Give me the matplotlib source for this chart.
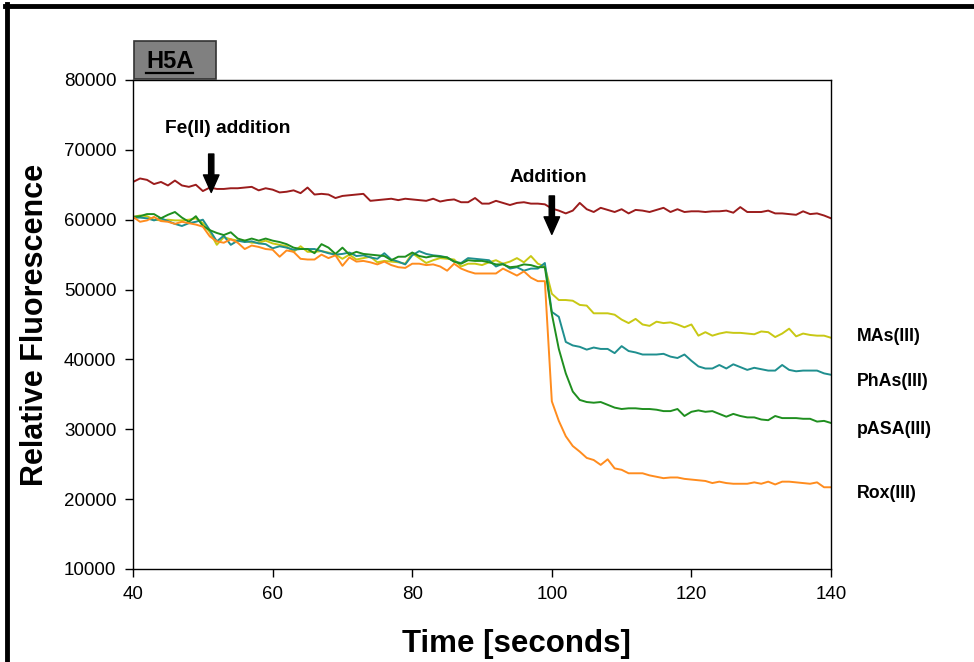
import numpy as np
import matplotlib
matplotlib.use("Agg")
import matplotlib.pyplot as plt
from matplotlib.lines import Line2D
from matplotlib.patches import Rectangle

plt.rcParams['font.family'] = ['Liberation Sans', 'DejaVu Sans']

### Time axis (seconds)
time = np.arange(40, 141)

### Series values
control = [
    65400, 65900, 65700, 65100, 65400, 64900, 65600, 64900, 64700, 65000,
    64100, 64600, 64400, 64400, 64500, 64500, 64600, 64700, 64200, 64500,
    64300, 63900, 64000, 64200, 63800, 64600, 63600, 63700, 63600, 63100,
    63400, 63500, 63600, 63700, 62700, 62800, 62900, 63000, 62800, 63000,
    62900, 62800, 62700, 63000, 62600, 62800, 62900, 62500, 62500, 63100,
    62300, 62300, 62700, 62400, 62100, 62400, 62500, 62300, 62300, 62200,
    61600, 61300, 60900, 61300, 62400, 61500, 61100, 61700, 61400, 61100,
    61500, 60900, 61400, 61300, 61100, 61400, 61700, 61100, 61500, 61100,
    61200, 61200, 61100, 61200, 61200, 61300, 61000, 61800, 61100, 61100,
    61100, 61300, 60900, 60900, 60800, 60700, 61200, 60800, 60900, 60600,
    60200,
]
mas = [
    60400, 60600, 60500, 60000, 59900, 60000, 59900, 59900, 60000, 60200,
    59500, 58200, 56400, 57500, 57200, 57000, 57000, 56700, 56700, 57000,
    56600, 56400, 56200, 55400, 56200, 55400, 55400, 55500, 55300, 55000,
    54400, 55000, 54300, 54500, 54700, 53900, 54100, 54000, 53900, 53700,
    55200, 54500, 53800, 54200, 54500, 54400, 54300, 53300, 53700, 53700,
    53500, 53900, 54200, 53700, 54000, 54500, 53900, 54800, 53700, 53300,
    49400, 48500, 48500, 48400, 47800, 47700, 46600, 46600, 46600, 46400,
    45700, 45200, 45800, 45000, 44800, 45400, 45200, 45300, 45000, 44600,
    45000, 43400, 43900, 43400, 43700, 43900, 43800, 43800, 43700, 43600,
    44000, 43900, 43200, 43700, 44400, 43300, 43700, 43500, 43400, 43400,
    43100,
]
phas = [
    60300, 60300, 60200, 59900, 60200, 59800, 59400, 59100, 59500, 59700,
    60000, 58500, 56900, 57700, 56400, 57000, 56800, 56900, 56600, 56500,
    55900, 56200, 56000, 55700, 55800, 55800, 55800, 55500, 55200, 55000,
    55100, 55300, 54800, 54900, 54600, 54400, 55200, 54300, 54000, 53600,
    54900, 55500, 55100, 54900, 54800, 54600, 54000, 53800, 54500, 54400,
    54300, 54200, 53300, 53700, 53000, 53200, 52700, 53000, 53000, 53800,
    46800, 46100, 42500, 42000, 41800, 41400, 41700, 41500, 41500, 40900,
    41900, 41200, 41000, 40700, 40700, 40700, 40800, 40400, 40200, 40700,
    39800, 39000, 38700, 38700, 39200, 38700, 39300, 38900, 38500, 38800,
    38600, 38400, 38400, 39200, 38500, 38300, 38400, 38400, 38400, 38000,
    37800,
]
pasa = [
    60400, 60500, 60800, 60800, 60200, 60700, 61100, 60300, 59700, 60500,
    59100, 58500, 58100, 57800, 58200, 57300, 57000, 57300, 57000, 57300,
    57000, 56800, 56500, 56000, 55800, 55800, 55200, 56500, 56000, 55100,
    56000, 55000, 55400, 55100, 55000, 54900, 54800, 54200, 54700, 54700,
    55300, 54800, 54600, 54800, 54700, 54600, 54000, 53700, 54200, 54100,
    54100, 53900, 53600, 53600, 53200, 53300, 53600, 53500, 53200, 53200,
    46500, 41500, 38000, 35400, 34200, 33900, 33800, 33900, 33500, 33100,
    32900, 33000, 33000, 32900, 32900, 32800, 32600, 32600, 32900, 31900,
    32500, 32700, 32500, 32600, 32200, 31800, 32200, 31900, 31700, 31700,
    31400, 31300, 31900, 31600, 31600, 31600, 31500, 31500, 31100, 31200,
    30900,
]
rox = [
    60400, 59700, 59900, 60400, 59800, 59700, 59400, 59700, 59500, 59300,
    59000, 57600, 56900, 56700, 57200, 56700, 55800, 56300, 56100, 55800,
    55700, 54700, 55600, 55400, 54400, 54300, 54300, 55000, 54500, 54900,
    53400, 54600, 54000, 54100, 53900, 53600, 54000, 53500, 53200, 53100,
    53700, 53700, 53500, 53600, 53300, 52700, 53700, 53000, 52600, 52300,
    52300, 52300, 52300, 53000, 52500, 52000, 52600, 51700, 51200, 51200,
    34000, 31200, 29000, 27600, 26800, 25900, 25600, 24900, 25700, 24400,
    24200, 23700, 23700, 23700, 23400, 23200, 23000, 23100, 23100, 22900,
    22800, 22700, 22600, 22300, 22500, 22300, 22200, 22200, 22200, 22400,
    22200, 22500, 22100, 22500, 22500, 22400, 22300, 22200, 22400, 21700,
    21700,
]

series_labels = ['MAs(III)', 'PhAs(III)', 'pASA(III)', 'Rox(III)']
label_y = [43350, 36900, 29900, 20740]

### Figure
fig = plt.figure(figsize=(9.74, 6.62), dpi=100)
ax = fig.add_axes([0.1366, 0.1405, 0.7166, 0.7387])

ax.plot(time, control, color='#9b1c1c', lw=1.4)
ax.plot(time, mas, color='#c8c814', lw=1.4)
ax.plot(time, phas, color='#1f8f8f', lw=1.4)
ax.plot(time, pasa, color='#1f8f1f', lw=1.4)
ax.plot(time, rox, color='#ff8c1e', lw=1.4)

ax.set_xlim(40, 140)
ax.set_ylim(10000, 80000)
ax.set_xticks(np.arange(40, 141, 20))
ax.set_yticks(np.arange(10000, 80001, 10000))
ax.tick_params(direction='out', length=6, width=1, labelsize=13.5, pad=6)
for s in ax.spines.values():
    s.set_linewidth(1.0)

ax.set_xlabel('Time [seconds]', fontsize=22.5, fontweight='bold')
ax.xaxis.set_label_coords(0.55, -0.123)
ax.set_ylabel('Relative Fluorescence', fontsize=22, fontweight='bold', labelpad=10)

### Annotations with arrows
arrow = dict(arrowstyle='simple,head_width=0.8,head_length=0.9,tail_width=0.27',
             color='black', mutation_scale=14, shrinkA=0, shrinkB=0)
ax.text(53.5, 73100, 'Fe(II) addition', ha='center', va='center',
        fontsize=13.8, fontweight='bold')
ax.annotate('', xy=(51.2, 63900), xytext=(51.2, 69400), arrowprops=arrow)
ax.text(99.5, 66100, 'Addition', ha='center', va='center',
        fontsize=13.8, fontweight='bold')
ax.annotate('', xy=(100, 57900), xytext=(100, 63400), arrowprops=arrow)

### Series labels on the right
for lab, yv in zip(series_labels, label_y):
    ax.text(143.7, yv, lab, ha='left', va='center', fontsize=12.8,
            fontweight='bold', clip_on=False)

### H5A tag
fig.patches.append(Rectangle((134 / 974, 1 - 79 / 662), 82 / 974, 38 / 662,
                             transform=fig.transFigure, facecolor='#808080',
                             edgecolor='#333333', lw=1.2))
fig.text(146 / 974, 1 - 61 / 662, 'H5A', ha='left', va='center',
         fontsize=17, fontweight='bold')
fig.lines.append(Line2D([146 / 974, 193 / 974], [1 - 73 / 662, 1 - 73 / 662],
                        transform=fig.transFigure, color='black', lw=1.6))

### Outer frame
fig.lines.append(Line2D([5 / 974, 1.0], [1 - 6 / 662, 1 - 6 / 662],
                        transform=fig.transFigure, color='black', lw=3.5))
fig.lines.append(Line2D([7 / 974, 7 / 974], [0, 1 - 4 / 662],
                        transform=fig.transFigure, color='black', lw=3.5))

fig.savefig('out.png', dpi=100)
